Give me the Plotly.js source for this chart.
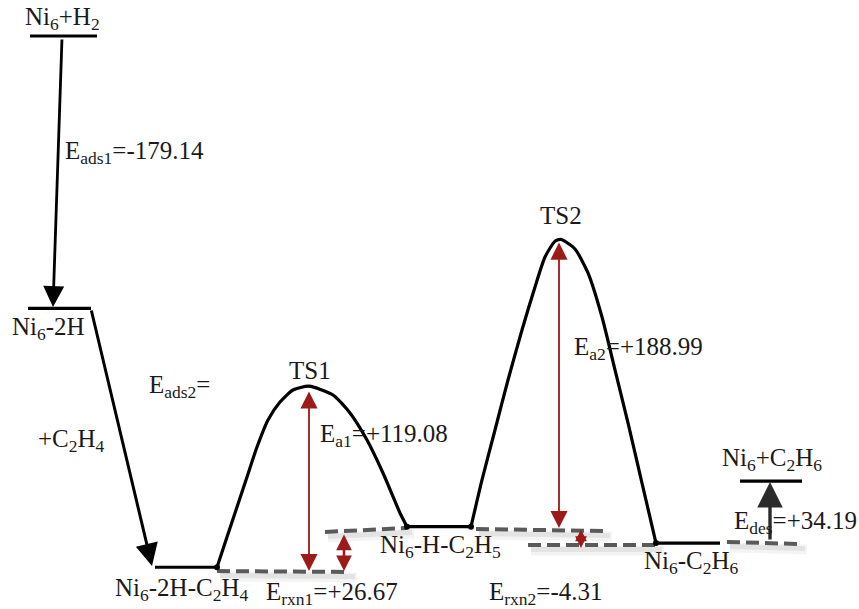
<!DOCTYPE html>
<html>
<head>
<meta charset="utf-8">
<script src="https://cdn.plot.ly/plotly-3.0.1.min.js"></script>
<style>html,body{margin:0;padding:0;background:#fff}#chart{width:859px;height:609px}</style>
</head>
<body>
<div id="chart"></div>
<script>
// ---------- DATA ----------
// energy levels (kJ/mol, relative to Ni6+H2), reaction-coordinate span
const levelNames  = ['Ni<sub>6</sub>+H<sub>2</sub>', 'Ni<sub>6</sub>-2H', 'Ni<sub>6</sub>-2H-C<sub>2</sub>H<sub>4</sub>',
                     'Ni<sub>6</sub>-H-C<sub>2</sub>H<sub>5</sub>', 'Ni<sub>6</sub>-C<sub>2</sub>H<sub>6</sub>', 'Ni<sub>6</sub>+C<sub>2</sub>H<sub>6</sub>'];
const levelStart  = [30, 28, 155, 407, 656, 740];
const levelEnd    = [97, 91, 217, 471, 720, 802];
const levelEnergy = [0, -179.14, -349.5, -322.8, -333.6, -292.8];

// transition-state barrier curves
const ts1X = [217, 227, 237, 247, 257, 268, 280, 293, 309, 333, 350, 367, 383, 400, 407];
const ts1E = [-349.5, -329.6, -309.9, -290.1, -270.4, -252.6, -240.8, -232.9, -230.4, -236.2, -248.0, -265.8, -287.5, -313.8, -322.8];
const ts2X = [471, 482, 495, 508, 522, 535, 545, 555, 561, 575, 588, 602, 615, 628, 642, 656];
const ts2E = [-322.8, -292.1, -259.2, -226.3, -193.4, -165.1, -145.4, -135.0, -133.8, -140.1, -155.9, -184.9, -219.7, -254.6, -294.1, -333.6];

// energy differences shown
const eads1 = -179.14, ea1 = 119.08, erxn1 = 26.67, ea2 = 188.99, erxn2 = -4.31, edes = 34.19;

// dashed reference lines
const refX0 = [217, 325, 476, 528, 727];
const refX1 = [350, 407, 605, 657, 800];
const refE0 = [-352.0, -326.3, -324.3, -334.9, -332.9];
const refE1 = [-352.6, -323.7, -325.7, -334.9, -334.2];

// red double arrows (energy gaps)
const gapX      = [309, 344, 559, 581];
const gapTop    = [-232.9, -327.0, -134.9, -323.7];
const gapBottom = [-352.0, -352.0, -323.7, -336.8];

// black step arrows: tail -> head
const stepX0 = [62, 91, 770];
const stepE0 = [-1.3, -179.6, -332.2];
const stepX1 = [53, 152, 770];
const stepE1 = [-178.3, -348.7, -293.4];

// ---------- DRAW ----------
const PXU = 1.52;                          // pixels per energy unit
const Y = py => -(py - 36) / PXU;          // label placement helper
const FONT = 'Liberation Serif';

const traces = [];
// level lines
for (let i = 0; i < levelEnergy.length; i++) {
  traces.push({x: [levelStart[i], levelEnd[i]], y: [levelEnergy[i], levelEnergy[i]], mode: 'lines',
    line: {color: '#000', width: 3.2}, hoverinfo: 'skip'});
}
// dashed reference lines with soft shadow
for (let i = 0; i < refX0.length; i++) {
  traces.push({x: [refX0[i] + 3, refX1[i] + 7], y: [refE0[i] - 3.6, refE1[i] - 3.6], mode: 'lines',
    line: {color: 'rgba(150,150,150,0.10)', width: 10}, hoverinfo: 'skip'});
  traces.push({x: [refX0[i] + 3, refX1[i] + 5], y: [refE0[i] - 3.0, refE1[i] - 3.0], mode: 'lines',
    line: {color: 'rgba(130,130,130,0.14)', width: 5}, hoverinfo: 'skip'});
  traces.push({x: [refX0[i], refX1[i]], y: [refE0[i], refE1[i]], mode: 'lines',
    line: {color: '#5a5a5a', width: 4, dash: '13px,6px'}, hoverinfo: 'skip'});
}
// barrier curves
traces.push({x: ts1X, y: ts1E, mode: 'lines', line: {color: '#000', width: 3.2, shape: 'spline', smoothing: 0.6}, hoverinfo: 'skip'});
traces.push({x: ts2X, y: ts2E, mode: 'lines', line: {color: '#000', width: 3.2, shape: 'spline', smoothing: 0.6}, hoverinfo: 'skip'});
// junction dots
traces.push({x: [ts1X[0], ts1X[ts1X.length-1], ts2X[0], ts2X[ts2X.length-1]],
             y: [ts1E[0], ts1E[ts1E.length-1], ts2E[0], ts2E[ts2E.length-1]],
             mode: 'markers', marker: {color: '#000', size: 6}, hoverinfo: 'skip'});

const ann = [];
// step arrows
const stepColor = ['#000', '#000', '#2b2b2b'];
const stepW = [2.8, 3, 3.4];
for (let i = 0; i < stepX0.length; i++) {
  ann.push({x: stepX1[i], y: stepE1[i], ax: stepX0[i], ay: stepE0[i], axref: 'x', ayref: 'y', xref: 'x', yref: 'y',
    text: '', showarrow: true, arrowhead: 2, arrowsize: 1.5, arrowwidth: stepW[i], arrowcolor: stepColor[i], standoff: 0});
}
// red gap arrows
for (let i = 0; i < gapX.length; i++) {
  const small = (i === 1 || i === 3);
  const sz = i === 3 ? 0.9 : (small ? 1.2 : 1.9);
  ann.push({x: gapX[i], y: gapBottom[i], ax: gapX[i], ay: gapTop[i], axref: 'x', ayref: 'y', xref: 'x', yref: 'y',
    text: '', showarrow: true, arrowhead: 2, startarrowhead: 2, arrowside: 'end+start',
    arrowsize: sz, startarrowsize: sz,
    arrowwidth: small ? 2.6 : 1.8, arrowcolor: '#9c1a1a', standoff: 0, startstandoff: 0});
}

function label(text, x, py, xanchor) {
  ann.push({x: x, y: Y(py), xref: 'x', yref: 'y', text: text, showarrow: false,
    xanchor: xanchor || 'center', yanchor: 'middle', font: {family: FONT, size: 25, color: '#1c1a18'}});
}
const sgn = v => (v >= 0 ? '+' : '') + v.toFixed(2);
label(levelNames[0], 62, 18);
label('E<sub>ads1</sub>=' + sgn(eads1), 63, 152, 'left');
label(levelNames[1], 48, 328);
label('E<sub>ads2</sub>=', 147, 386, 'left');
label('+C<sub>2</sub>H<sub>4</sub>', 36, 440, 'left');
label(levelNames[2], 181, 589);
label('TS1', 310, 370);
label('E<sub>a1</sub>=' + sgn(ea1), 318, 435, 'left');
label('E<sub>rxn1</sub>=' + sgn(erxn1), 264, 593, 'left');
label(levelNames[3], 440, 546);
label('TS2', 561, 215);
label('E<sub>a2</sub>=' + sgn(ea2), 572, 348, 'left');
label(levelNames[4], 691, 562);
label('E<sub>rxn2</sub>=' + sgn(erxn2), 487, 593, 'left');
label(levelNames[5], 772, 459);
label('E<sub>des</sub>=' + sgn(edes), 732, 522, 'left');

const layout = {
  width: 859, height: 609, margin: {l: 0, r: 0, t: 0, b: 0},
  font: {family: FONT, size: 25, color: '#1c1a18'},
  paper_bgcolor: '#fff', plot_bgcolor: '#fff', showlegend: false,
  xaxis: {range: [0, 859], visible: false, fixedrange: true},
  yaxis: {range: [Y(609), Y(0)], visible: false, fixedrange: true},
  annotations: ann
};
Plotly.newPlot('chart', traces, layout, {staticPlot: true});
</script>
</body>
</html>
